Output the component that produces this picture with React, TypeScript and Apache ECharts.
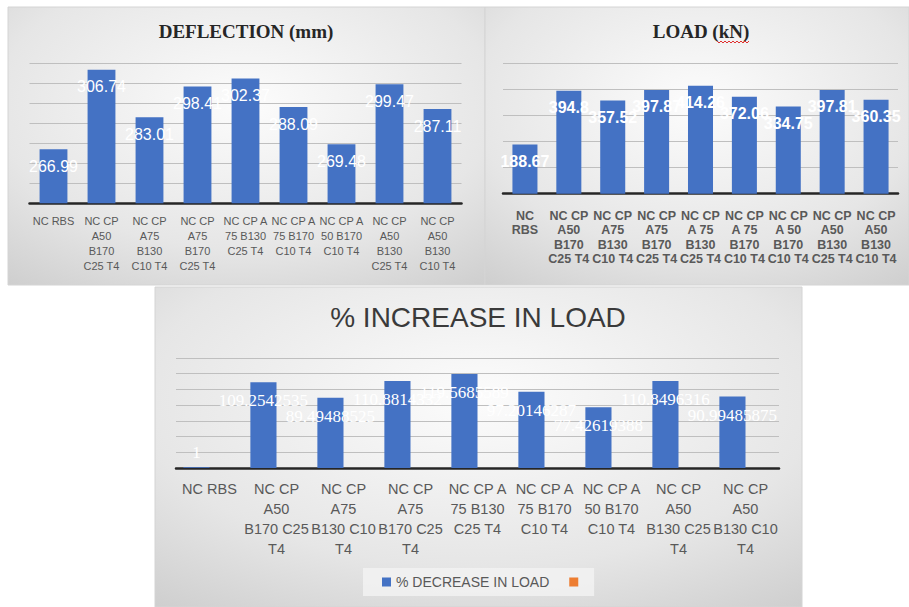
import React, { useEffect, useRef } from "react";
import * as echarts from "echarts";

// ---- Data ----
const deflectionCategories = [
  "NC RBS",
  "NC CP\nA50\nB170\nC25 T4",
  "NC CP\nA75\nB130\nC10 T4",
  "NC CP\nA75\nB170\nC25 T4",
  "NC CP A\n75 B130\nC25 T4",
  "NC CP A\n75 B170\nC10 T4",
  "NC CP A\n50 B170\nC10 T4",
  "NC CP\nA50\nB130\nC25 T4",
  "NC CP\nA50\nB130\nC10 T4",
];
const deflectionValues = [266.99, 306.74, 283.01, 298.41, 302.37, 288.09, 269.48, 299.47, 287.11];

const loadCategories = [
  "NC\nRBS",
  "NC CP\nA50\nB170\nC25 T4",
  "NC CP\nA75\nB130\nC10 T4",
  "NC CP\nA75\nB170\nC25 T4",
  "NC CP\nA 75\nB130\nC25 T4",
  "NC CP\nA 75\nB170\nC10 T4",
  "NC CP\nA 50\nB170\nC10 T4",
  "NC CP\nA50\nB130\nC25 T4",
  "NC CP\nA50\nB130\nC10 T4",
];
const loadValues = [188.67, 394.8, 357.52, 397.87, 414.26, 372.06, 334.75, 397.81, 360.35];

const increaseCategories = [
  "NC RBS",
  "NC CP\nA50\nB170 C25\nT4",
  "NC CP\nA75\nB130 C10\nT4",
  "NC CP\nA75\nB170 C25\nT4",
  "NC CP A\n75 B130\nC25 T4",
  "NC CP A\n75 B170\nC10 T4",
  "NC CP A\n50 B170\nC10 T4",
  "NC CP\nA50\nB130 C25\nT4",
  "NC CP\nA50\nB130 C10\nT4",
];
const increaseValues = [1, 109.2542535, 89.49488525, 110.8814332, 119.5685589, 97.20146287, 77.42619388, 110.8496316, 90.99485875];
const increaseSeriesName = "% DECREASE IN LOAD";
const emptySeriesName = " ";
const emptySeriesValues: number[] = [];

const titles = ["DEFLECTION (mm)", "LOAD (kN)", "% INCREASE IN LOAD"];

// ---- Styles ----
const BLUE = "#4472C4";
const ORANGE = "#ED7D31";
const GRID_LINE = "#bfbfbf";
const AXIS_LINE = "#262626";
const LABEL_GREY = "#595959";

const panelFill = {
  type: "radial",
  x: 0.5,
  y: 0.35,
  r: 0.95,
  colorStops: [
    { offset: 0, color: "#fcfcfc" },
    { offset: 0.55, color: "#e6e6e6" },
    { offset: 1, color: "#c4c4c4" },
  ],
};

function squiggle(x0: number, x1: number, y: number) {
  const pts: number[][] = [];
  let up = true;
  for (let x = x0; x <= x1; x += 2) {
    pts.push([x, up ? y : y + 2]);
    up = !up;
  }
  return pts;
}

export default function App() {
  const ref = useRef<HTMLDivElement>(null);

  useEffect(() => {
    if (!ref.current) return;
    const chart = echarts.init(ref.current, null, { renderer: "svg" });

    const valueAxisBase = {
      type: "value",
      axisLabel: { show: false },
      axisLine: { show: false },
      axisTick: { show: false },
      splitLine: { show: true, lineStyle: { color: GRID_LINE, width: 1 } },
    };

    const catAxisBase = {
      type: "category",
      axisTick: { show: false },
      axisLine: { show: true, lineStyle: { color: AXIS_LINE, width: 2.5 } },
    };

    const option: any = {
      animation: false,
      backgroundColor: "#ffffff",
      graphic: [
        { type: "rect", z: -10, zlevel: 0, silent: true, shape: { x: 8, y: 7, width: 477, height: 278 }, style: { fill: panelFill, stroke: "#d4d4d4", lineWidth: 1 } },
        { type: "rect", z: -10, zlevel: 0, silent: true, shape: { x: 485, y: 7, width: 424, height: 278 }, style: { fill: panelFill, stroke: "#d4d4d4", lineWidth: 1 } },
        { type: "rect", z: -10, zlevel: 0, silent: true, shape: { x: 155, y: 287, width: 647, height: 320 }, style: { fill: panelFill, stroke: "#d4d4d4", lineWidth: 1 } },
        { type: "polyline", z: 10, silent: true, shape: { points: squiggle(717, 749, 41) }, style: { stroke: "#e03030", lineWidth: 1, fill: "none" } },
      ],
      title: [
        {
          text: titles[0],
          left: 246,
          top: 22,
          textAlign: "center",
          padding: 0,
          textStyle: { fontFamily: "Liberation Serif", fontWeight: "bold", fontSize: 19, color: "#262626" },
        },
        {
          text: titles[1],
          left: 701,
          top: 22,
          textAlign: "center",
          padding: 0,
          textStyle: { fontFamily: "Liberation Serif", fontWeight: "bold", fontSize: 19, color: "#262626" },
        },
        {
          text: titles[2],
          left: 478,
          top: 303,
          textAlign: "center",
          padding: 0,
          textStyle: { fontFamily: "Liberation Sans", fontWeight: "normal", fontSize: 28, color: "#3a3a3a" },
        },
      ],
      legend: {
        data: [increaseSeriesName, emptySeriesName],
        left: 363,
        top: 568,
        orient: "horizontal",
        icon: "rect",
        itemWidth: 9,
        itemHeight: 9,
        itemGap: 20,
        padding: [7, 7, 7, 19],
        backgroundColor: "rgba(242,242,242,0.85)",
        textStyle: { fontFamily: "Liberation Sans", fontSize: 14, color: LABEL_GREY },
      },
      grid: [
        { left: 29.5, width: 432, top: 63.3, height: 140 },
        { left: 503, width: 395, top: 63.3, height: 130.4 },
        { left: 176, width: 603, top: 358, height: 110 },
      ],
      xAxis: [
        {
          ...catAxisBase,
          gridIndex: 0,
          data: deflectionCategories,
          axisLabel: { interval: 0, margin: 10, color: LABEL_GREY, fontFamily: "Liberation Sans", fontSize: 11, lineHeight: 15 },
        },
        {
          ...catAxisBase,
          gridIndex: 1,
          data: loadCategories,
          axisLabel: { interval: 0, margin: 15, color: LABEL_GREY, fontFamily: "Liberation Sans", fontWeight: "bold", fontSize: 12.5, lineHeight: 14.5 },
        },
        {
          ...catAxisBase,
          gridIndex: 2,
          data: increaseCategories,
          axisLabel: { interval: 0, margin: 11, color: LABEL_GREY, fontFamily: "Liberation Sans", fontSize: 14.5, lineHeight: 20 },
        },
      ],
      yAxis: [
        { ...valueAxisBase, gridIndex: 0, min: 240, max: 310, interval: 10 },
        { ...valueAxisBase, gridIndex: 1, min: 0, max: 500, interval: 100 },
        { ...valueAxisBase, gridIndex: 2, min: 0, max: 140, interval: 20 },
      ],
      series: [
        {
          type: "bar",
          name: "Deflection",
          xAxisIndex: 0,
          yAxisIndex: 0,
          data: deflectionValues,
          barCategoryGap: "42%",
          itemStyle: { color: BLUE },
          label: {
            show: true,
            position: "insideTop",
            distance: 9,
            color: "#ffffff",
            fontFamily: "Liberation Sans",
            fontSize: 16,
          },
        },
        {
          type: "bar",
          name: "Load",
          xAxisIndex: 1,
          yAxisIndex: 1,
          data: loadValues,
          barCategoryGap: "43%",
          itemStyle: { color: BLUE },
          label: {
            show: true,
            position: "insideTop",
            distance: 9,
            color: "#ffffff",
            fontFamily: "Liberation Sans",
            fontWeight: "bold",
            fontSize: 16,
          },
        },
        {
          type: "bar",
          name: increaseSeriesName,
          xAxisIndex: 2,
          yAxisIndex: 2,
          data: increaseValues.map((v, i) =>
            i === 0 ? { value: v, label: { position: "top", distance: 6 } } : v
          ),
          barGap: "0%",
          barCategoryGap: "22%",
          itemStyle: { color: BLUE },
          label: {
            show: true,
            position: "insideTop",
            distance: 10,
            color: "#ffffff",
            fontFamily: "Liberation Serif",
            fontSize: 17,
          },
        },
        {
          type: "bar",
          name: emptySeriesName,
          xAxisIndex: 2,
          yAxisIndex: 2,
          data: emptySeriesValues,
          barGap: "0%",
          barCategoryGap: "22%",
          itemStyle: { color: ORANGE },
        },
      ],
    };

    chart.setOption(option);
    return () => {
      chart.dispose();
    };
  }, []);

  return (
    <div
      ref={ref}
      style={{ position: "fixed", left: 0, top: 0, width: 909, height: 607 }}
    />
  );
}
